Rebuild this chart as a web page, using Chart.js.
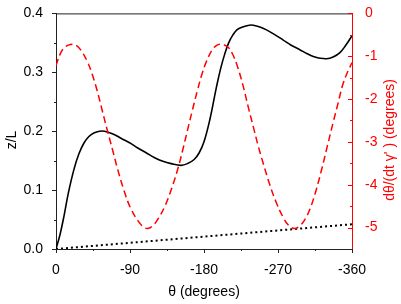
<!DOCTYPE html>
<html>
<head>
<meta charset="utf-8">
<script src="https://cdn.jsdelivr.net/npm/chart.js@4.4.0/dist/chart.umd.min.js"></script>
<style>
    body { margin: 0; background: #fff; }
    #wrap { width: 401px; height: 304px; position: relative; }
</style>
</head>
<body>
<div id="wrap"><canvas id="zChart"></canvas></div>
<script>
// theta (degrees) and z/L for the solid curve
const zTheta = [0, -5, -10, -15, -22, -28, -34, -40, -46, -53, -59, -70, -79, -90, -99, -110, -120, -130, -140, -152,
    -160, -168, -174, -180, -187, -195, -200, -205, -210, -215, -220, -227, -235, -240, -248, -256, -266, -276, -286,
    -297, -305, -313, -321, -329, -337, -345, -352, -360];
const zValues = [0, 0.025, 0.058, 0.095, 0.136, 0.162, 0.18, 0.191, 0.197, 0.2, 0.2, 0.195, 0.188, 0.18, 0.172, 0.163,
    0.155, 0.149, 0.145, 0.142, 0.145, 0.152, 0.163, 0.182, 0.219, 0.274, 0.305, 0.33, 0.35, 0.363, 0.372, 0.377, 0.38,
    0.38, 0.377, 0.372, 0.364, 0.355, 0.346, 0.338, 0.332, 0.327, 0.324, 0.323, 0.326, 0.333, 0.345, 0.362];

// theta (degrees) and dθ/(dt γ') for the red dashed curve
const rateTheta = [0, -5, -10, -15, -20, -25, -30, -38, -44, -50, -56, -62, -69, -75, -83, -91, -100, -106, -111, -117,
    -124, -132, -140, -148, -154, -160, -166, -172, -177, -183, -190, -195, -200, -205, -210, -215, -220, -227, -234,
    -240, -246, -252, -260, -268, -276, -283, -290, -297, -303, -309, -316, -323, -330, -337, -343, -349, -355, -360];
const rateValues = [-1.22, -0.95, -0.8, -0.74, -0.72, -0.75, -0.85, -1.12, -1.42, -1.8, -2.25, -2.7, -3.2, -3.64, -4.15,
    -4.56, -4.85, -4.98, -5.02, -4.97, -4.8, -4.52, -4.12, -3.64, -3.2, -2.72, -2.25, -1.8, -1.45, -1.12, -0.85, -0.75,
    -0.72, -0.74, -0.8, -0.96, -1.2, -1.65, -2.2, -2.65, -3.1, -3.5, -4.0, -4.42, -4.75, -4.95, -5.02, -4.95, -4.8,
    -4.56, -4.15, -3.65, -3.1, -2.55, -2.1, -1.65, -1.35, -1.15];

// dotted straight line (z/L axis)
const dotTheta = [0, -360];
const dotValues = [0, 0.042];

// tick labels
const thetaTicks = [0, -90, -180, -270, -360];
const zTicks = [0, 0.1, 0.2, 0.3, 0.4];
const rateTicks = [0, -1, -2, -3, -4, -5];

const FONT = "'Liberation Sans', Arial, sans-serif";
const RED = "#ff0000";
const AXIS = "#222";

function pairs(xs, ys) {
    return xs.map((x, i) => ({ x: x, y: ys[i] }));
}

function setTicks(values) {
    return scale => { scale.ticks = values.map(v => ({ value: v })); };
}

// minor + major tick marks, top frame and axis titles
const decorPlugin = {
    id: "decor",
    afterDraw(chart) {
        const ctx = chart.ctx;
        const area = chart.chartArea;
        const sx = chart.scales.x;
        const sz = chart.scales.z;
        const sr = chart.scales.rate;
        ctx.save();
        ctx.lineWidth = 1;

        ctx.strokeStyle = AXIS;
        ctx.beginPath();
        ctx.moveTo(area.left, area.top + 0.5);
        ctx.lineTo(area.right, area.top + 0.5);
        ctx.stroke();

        const marks = (scale, ticks, draw) => {
            const step = ticks[1] - ticks[0];
            ticks.forEach((v, i) => {
                draw(scale.getPixelForValue(v), 4);
                if (i < ticks.length - 1) draw(scale.getPixelForValue(v + step / 2), 2);
            });
        };

        marks(sx, thetaTicks, (p, len) => {
            ctx.beginPath();
            ctx.moveTo(Math.round(p) + 0.5, area.bottom);
            ctx.lineTo(Math.round(p) + 0.5, area.bottom + len);
            ctx.stroke();
        });
        marks(sz, zTicks, (p, len) => {
            ctx.beginPath();
            ctx.moveTo(area.left, Math.round(p) + 0.5);
            ctx.lineTo(area.left - len, Math.round(p) + 0.5);
            ctx.stroke();
        });
        ctx.strokeStyle = RED;
        marks(sr, rateTicks, (p, len) => {
            ctx.beginPath();
            ctx.moveTo(area.right, Math.round(p) + 0.5);
            ctx.lineTo(area.right - len, Math.round(p) + 0.5);
            ctx.stroke();
        });

        ctx.font = "14px " + FONT;
        ctx.textAlign = "center";
        ctx.textBaseline = "middle";
        ctx.fillStyle = "#000";
        ctx.fillText("θ (degrees)", (area.left + area.right) / 2, 292);

        ctx.save();
        ctx.translate(12, 140);
        ctx.rotate(-Math.PI / 2);
        ctx.fillText("z/L", 0, 0);
        ctx.restore();

        ctx.save();
        ctx.fillStyle = RED;
        ctx.translate(390, 140);
        ctx.rotate(-Math.PI / 2);
        ctx.fillText("dθ/(dt γ' ) (degrees)", 0, 0);
        ctx.restore();

        ctx.restore();
    }
};

new Chart(document.getElementById("zChart"), {
    type: "line",
    data: {
        datasets: [{
            data: pairs(rateTheta, rateValues),
            yAxisID: "rate",
            borderColor: RED,
            borderWidth: 1.5,
            borderDash: [7, 4],
            pointRadius: 0,
            tension: 0.4
        }, {
            data: pairs(zTheta, zValues),
            yAxisID: "z",
            borderColor: "#000",
            borderWidth: 1.6,
            pointRadius: 0,
            tension: 0.4
        }, {
            data: pairs(dotTheta, dotValues),
            yAxisID: "z",
            borderColor: "#000",
            borderWidth: 2,
            borderDash: [2, 3],
            pointRadius: 0
        }]
    },
    options: {
        responsive: true,
        maintainAspectRatio: false,
        animation: false,
        layout: {
            padding: { top: 8, left: 0, right: 0, bottom: 0 }
        },
        plugins: {
            legend: { display: false },
            tooltip: { enabled: false }
        },
        scales: {
            x: {
                type: "linear",
                min: -360,
                max: 0,
                reverse: true,
                afterBuildTicks: setTicks(thetaTicks),
                afterFit: scale => { scale.height = 55; },
                grid: { display: false },
                border: { display: true, color: AXIS, width: 1 },
                ticks: {
                    color: "#000",
                    font: { family: FONT, size: 14 },
                    padding: 5,
                    maxRotation: 0,
                    callback: v => String(v)
                }
            },
            z: {
                type: "linear",
                position: "left",
                min: 0,
                max: 0.4,
                afterBuildTicks: setTicks(zTicks),
                afterFit: scale => { scale.width = 56; },
                grid: { display: false },
                border: { display: true, color: AXIS, width: 1 },
                ticks: {
                    color: "#000",
                    font: { family: FONT, size: 14 },
                    padding: 5,
                    callback: v => v.toFixed(1)
                }
            },
            rate: {
                type: "linear",
                position: "right",
                min: -5.5,
                max: 0,
                afterBuildTicks: setTicks(rateTicks),
                afterFit: scale => { scale.width = 49; },
                grid: { display: false },
                border: { display: true, color: RED, width: 1 },
                ticks: {
                    color: RED,
                    font: { family: FONT, size: 14 },
                    padding: 5,
                    callback: v => String(v)
                }
            }
        }
    },
    plugins: [decorPlugin]
});
</script>
</body>
</html>
